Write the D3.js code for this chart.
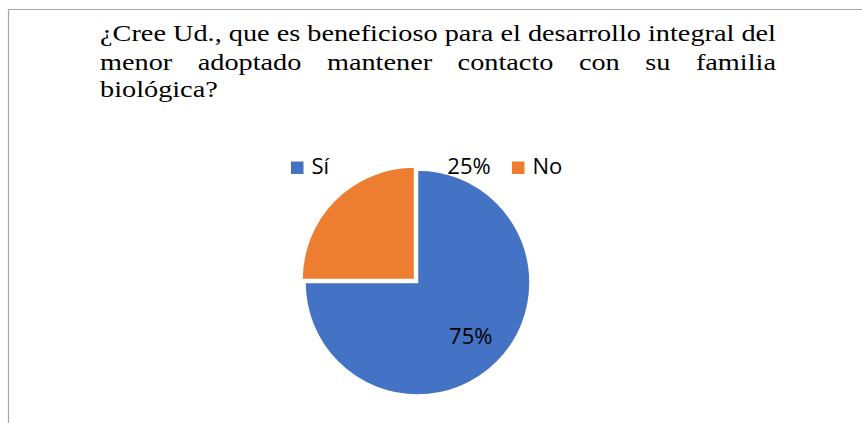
<!DOCTYPE html>
<html>
<head>
<meta charset="utf-8">
<script src="https://cdn.jsdelivr.net/npm/d3@7"></script>
<style>
  body { margin: 0; background: #fff; }
  svg { display: block; }
  .title { font-family: "Liberation Serif", "Times New Roman", serif; }
  .lbl { font-family: "Open Sans", "Noto Sans", sans-serif; }
</style>
</head>
<body>
<div id="chart"></div>
<script>
// Chart data
var categories = ["Sí", "No"];
var values = [75, 25];
var labels = ["75%", "25%"];
var colors = ["#4472C4", "#ED7D31"];

var titleLines = [
  "¿Cree Ud., que es beneficioso para el desarrollo integral del",
  "menor adoptado mantener contacto con su familia",
  "biológica?"
];

var svgWidth = 862;
var svgHeight = 423;

var svg = d3.select("#chart")
            .append("svg")
            .attr("width", svgWidth)
            .attr("height", svgHeight);

// Outer chart border (top and left visible)
svg.append("path")
   .attr("d", `M8.5,${svgHeight} V9.5 H${svgWidth}`)
   .attr("fill", "none")
   .attr("stroke", "#a6a6a6")
   .attr("stroke-width", 1.2);

// Title, justified between left and right edges.
// The source picture is stretched sideways, so each word is widened by sx.
var titleLeft = 100;
var titleWidth = 676;
var baselines = [41, 69.5, 97];
var titleSize = 23;

var titleGroup = svg.append("g");
var probe = titleGroup.append("text")
                      .attr("class", "title")
                      .attr("font-size", titleSize)
                      .text(titleLines[0]);
var sx = titleWidth / probe.node().getComputedTextLength();
probe.remove();

titleLines.forEach((line, i) => {
  var words = line.split(" ");
  var nodes = words.map(w => titleGroup.append("text")
                               .attr("class", "title")
                               .attr("y", baselines[i])
                               .attr("font-size", titleSize)
                               .attr("fill", "#000")
                               .text(w));
  var widths = nodes.map(n => n.node().getComputedTextLength() * sx);
  nodes.forEach((n, j) => n.attr("textLength", widths[j])
                           .attr("lengthAdjust", "spacingAndGlyphs"));
  var total = d3.sum(widths);
  var gap = (i < titleLines.length - 1 && words.length > 1)
            ? (titleWidth - total) / (words.length - 1)
            : 6.5;
  var x = titleLeft;
  nodes.forEach((n, j) => {
    n.attr("x", x);
    x += widths[j] + gap;
  });
});

// Pie
var cx = 417.5, cy = 282.5, radius = 112.5;
var pieData = d3.pie().sort(null).value(d => d)(values);
var arc = d3.arc().innerRadius(0).outerRadius(radius);
var explode = [0, 4.2];

var pieGroup = svg.append("g")
                  .attr("transform", `translate(${cx}, ${cy})`);

pieGroup.selectAll("path")
        .data(pieData)
        .enter()
        .append("path")
        .attr("d", arc)
        .attr("fill", (d, i) => colors[i])
        .attr("stroke", "#fff")
        .attr("stroke-width", 1.5)
        .attr("transform", (d, i) => {
          var a = (d.startAngle + d.endAngle) / 2;
          return `translate(${Math.sin(a) * explode[i]}, ${-Math.cos(a) * explode[i]})`;
        });

// Data labels
var labelArc = d3.arc().innerRadius(radius * 0.67).outerRadius(radius * 0.67);

pieGroup.append("text")
        .attr("class", "lbl")
        .attr("x", labelArc.centroid(pieData[0])[0])
        .attr("y", labelArc.centroid(pieData[0])[1] + 8)
        .attr("text-anchor", "middle")
        .attr("font-size", 22)
        .attr("fill", "#000")
        .text(labels[0]);

// the small slice's label is pushed outside, above the pie
pieGroup.append("text")
        .attr("class", "lbl")
        .attr("x", 51.5)
        .attr("y", -108.5)
        .attr("text-anchor", "middle")
        .attr("font-size", 22)
        .attr("fill", "#000")
        .text(labels[1]);

// Legend
var legendX = [291, 512];
var legend = svg.append("g");
categories.forEach((c, i) => {
  legend.append("rect")
        .attr("x", legendX[i])
        .attr("y", 161.5)
        .attr("width", 12.5)
        .attr("height", 12.5)
        .attr("fill", colors[i]);
  legend.append("text")
        .attr("class", "lbl")
        .attr("x", legendX[i] + 20.5)
        .attr("y", 174)
        .attr("font-size", 22)
        .attr("fill", "#000")
        .text(c);
});
</script>
</body>
</html>
